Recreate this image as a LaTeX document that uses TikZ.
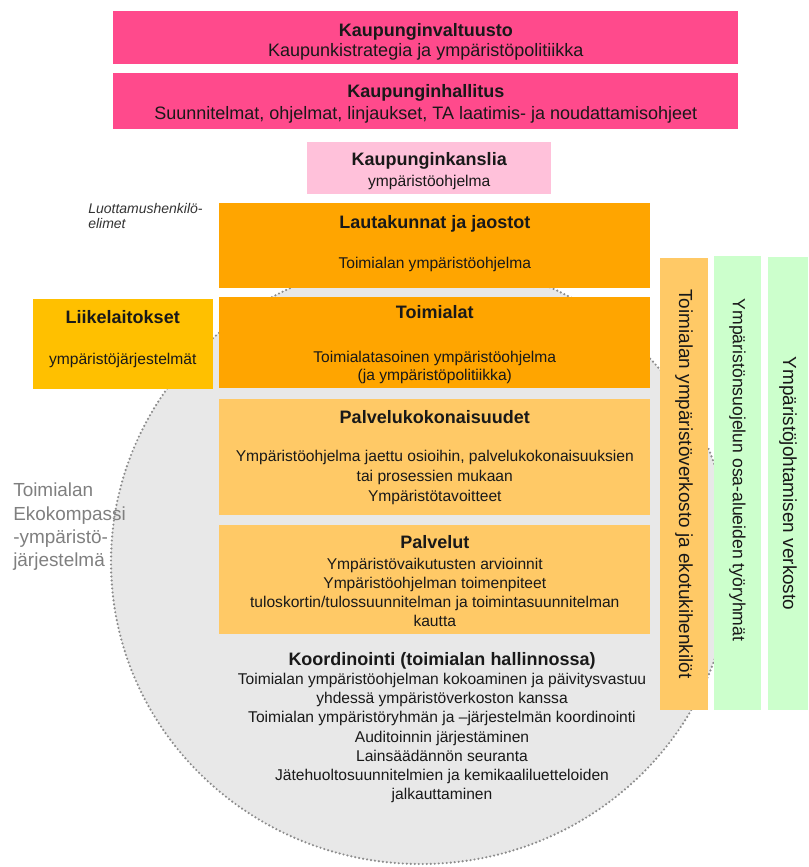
\documentclass[tikz,border=0pt]{standalone}
\usepackage{fontspec}
\setmainfont{Liberation Sans}
\usetikzlibrary{positioning}

\definecolor{valtuustopink}{HTML}{FF4A8C}
\definecolor{kanslialight}{HTML}{FFC1DA}
\definecolor{toimiorange}{HTML}{FFA500}
\definecolor{liikegold}{HTML}{FFC000}
\definecolor{palvelulight}{HTML}{FFC966}
\definecolor{verkostogreen}{HTML}{CCFFCC}
\definecolor{ekogray}{HTML}{E8E8E8}
\definecolor{ekoline}{HTML}{8C8C8C}
\definecolor{ekotext}{HTML}{7F7F7F}

% heading line; the optional argument pushes the text block down
\newcommand{\hd}[2][0pt]{{\fontsize{13.5}{16}\selectfont\bfseries\rule{0pt}{\dimexpr 9.9pt+#1\relax}#2}}
% extra depth under the last line, pushes the text block up
\newcommand{\dn}[1]{\rule[-#1]{0pt}{0pt}}

\begin{document}
\begin{tikzpicture}[%
    x=0.75pt, y=-0.75pt,        % one unit is one pixel of the reference
    ]
% -------------------------------------------------
% Box styles
\tikzset{
  base/.style={inner sep=0pt, align=center, text=black!90,
    font=\fontsize{11.7}{14.3}\selectfont},
  pinkbox/.style={base, fill=valtuustopink, minimum width=468.75pt,
    font=\fontsize{13.5}{16}\selectfont},
  kansliabox/.style={base, fill=kanslialight, minimum width=183pt, minimum height=39pt},
  orangebox/.style={base, fill=toimiorange, minimum width=323.25pt},
  palvelubox/.style={base, fill=palvelulight, minimum width=323.25pt},
  liikebox/.style={base, fill=liikegold, minimum width=135pt, minimum height=67.5pt},
  vbar/.style={base, rotate=-90, font=\fontsize{14.2}{16}\selectfont},
  ekocircle/.style={fill=ekogray, draw=ekoline, line width=1.8pt,
    dash pattern=on 0pt off 3pt, line cap=round},
  ekolabel/.style={inner sep=0pt, align=left, text=ekotext,
    font=\fontsize{14.2}{17.5}\selectfont},
  it/.style={inner sep=0pt, align=left, text=black!80,
    font=\fontsize{10.5}{11}\selectfont\itshape}
}
\useasboundingbox (0,0) rectangle (808,867);
% -------------------------------------------------
% Background: the Ekokompassi circle
\draw[ekocircle] (421,562) ellipse [x radius=232.5pt, y radius=226.5pt];

% City level
\node [pinkbox, minimum height=39.75pt, anchor=north west] (valtuusto) at (113,11)
  {\hd[6.75pt]{Kaupunginvaltuusto}\\[-1pt]Kaupunkistrategia ja ympäristöpolitiikka};
\node [pinkbox, minimum height=42pt, below=6pt of valtuusto] (hallitus)
  {\hd[4.5pt]{Kaupunginhallitus}\\[0.5pt]Suunnitelmat, ohjelmat, linjaukset, TA laatimis- ja noudattamisohjeet};
\node [kansliabox, below=9.75pt of hallitus, xshift=2.6pt] (kanslia)
  {\hd[4.5pt]{Kaupunginkanslia}\\[1.5pt]ympäristöohjelma};

% Sector level
\node [orangebox, minimum height=63.75pt, anchor=north west] (lautakunnat) at (219,203)
  {\hd{Lautakunnat ja jaostot}\\[15.7pt]Toimialan ympäristöohjelma\dn{6.25pt}};
\node [it, anchor=north west] (luottamus) at (88,203) {Luottamushenkilö-\\elimet};
\node [orangebox, minimum height=68.25pt, below=6pt of lautakunnat] (toimialat)
  {\hd[3pt]{Toimialat}\\[18.7pt]Toimialatasoinen ympäristöohjelma\\[-0.8pt](ja ympäristöpolitiikka)};
\node [liikebox, left=4.5pt of toimialat, yshift=-1pt] (liikelaitokset)
  {\hd{Liikelaitokset}\\[16.5pt]ympäristöjärjestelmät\dn{10pt}};
\node [palvelubox, minimum height=87pt, below=8.25pt of toimialat] (kokonaisuudet)
  {\hd{Palvelukokonaisuudet}\\[14.2pt]Ympäristöohjelma jaettu osioihin, palvelukokonaisuuksien\\[0.7pt]tai prosessien mukaan\\[0.7pt]Ympäristötavoitteet};
\node [palvelubox, minimum height=81.75pt, below=6.75pt of kokonaisuudet] (palvelut)
  {\hd[2.25pt]{Palvelut}\\[1.5pt]Ympäristövaikutusten arvioinnit\\Ympäristöohjelman toimenpiteet\\tuloskortin/tulossuunnitelman ja toimintasuunnitelman\\kautta};
\node [base] (koordinointi) at (442,727.5)
  {\hd{Koordinointi (toimialan hallinnossa)}\\Toimialan ympäristöohjelman kokoaminen ja päivitysvastuu\\yhdessä ympäristöverkoston kanssa\\Toimialan ympäristöryhmän ja –järjestelmän koordinointi\\Auditoinnin järjestäminen\\Lainsäädännön seuranta\\Jätehuoltosuunnitelmien ja kemikaaliluetteloiden\\jalkauttaminen};

% Label of the circle
\node [ekolabel, anchor=north west] (ekokompassi) at (13,483)
  {Toimialan\\Ekokompassi\\-ympäristö-\\järjestelmä};

% Networks at the right
\node [vbar, fill=palvelulight, minimum width=339pt, minimum height=36pt] (verkosto) at (684,484)
  {Toimialan ympäristöverkosto ja ekotukihenkilöt};
\node [vbar, fill=verkostogreen, minimum width=340.5pt, minimum height=35.25pt,
  font=\fontsize{13.2}{16}\selectfont] (tyoryhmat) at (737.5,483)
  {Ympäristönsuojelun osa-alueiden työryhmät\hspace{19.5pt}};
\node [vbar, fill=verkostogreen, minimum width=339.75pt, minimum height=30pt] (johtaminen) at (788,483.5)
  {Ympäristöjohtamisen verkosto};
% -------------------------------------------------
\end{tikzpicture}
\end{document}
